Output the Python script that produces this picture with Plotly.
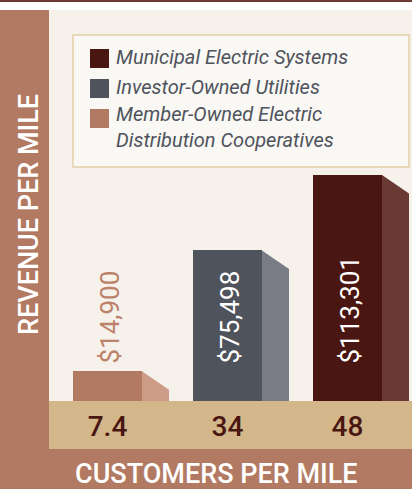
import plotly.graph_objects as go

# ---- data ----
categories = ["Member-Owned Electric Distribution Cooperatives",
              "Investor-Owned Utilities",
              "Municipal Electric Systems"]
legend_labels = ["Member-Owned Electric<br>Distribution Cooperatives",
                 "Investor-Owned Utilities",
                 "Municipal Electric Systems"]
customers_per_mile = ["7.4", "34", "48"]
revenue_per_mile = [14900, 75498, 113301]
value_labels = ["$14,900", "$75,498", "$113,301"]

# legend order (top to bottom)
legend_order = [2, 1, 0]

# ---- styles ----
front_colors = ["#b27a62", "#4f535c", "#4a1612"]
side_colors = ["#cd9c87", "#797c85", "#683a33"]
label_colors = ["#bb8269", "#ffffff", "#ffffff"]
BAND = "#b27a62"
TAN = "#d3b68a"
PLOT_BG = "#f6f1ea"
TOP_LINE = "#6a3a33"
LEGEND_TXT = "#4f535c"
FONT = "Roboto"

W, H = 412, 489
PL, PR, PT, PB = 49, 412, 10, 401          # plot area (pixels)
X_MIN, X_MAX = -0.4875, 2.5375
Y_MAX = 196000
BAR_W = 0.575
SIDE_W = 0.225
PLOT_H = PB - PT
DROP = 18.5 / PLOT_H * Y_MAX
LABEL_Y = 35 / PLOT_H * Y_MAX


def px(x):
    return x / W


def py(y):
    return 1 - y / H


fig = go.Figure()

for i, (name, v) in enumerate(zip(categories, revenue_per_mile)):
    fig.add_trace(go.Bar(x=[i], y=[v], width=BAR_W, name=name,
                         marker=dict(color=front_colors[i], line=dict(width=0)),
                         showlegend=False, hoverinfo="name+y"))
    x0 = i + BAR_W / 2
    x1 = x0 + SIDE_W
    fig.add_trace(go.Scatter(x=[x0, x1, x1, x0, x0], y=[0, 0, v - DROP, v, 0],
                             mode="lines", fill="toself", fillcolor=side_colors[i],
                             line=dict(width=0, color=side_colors[i]),
                             showlegend=False, hoverinfo="skip"))

shapes = [
    dict(type="rect", xref="paper", yref="paper", x0=0, x1=1, y0=py(2), y1=1,
         fillcolor=TOP_LINE, line_width=0, layer="below"),
    dict(type="rect", xref="paper", yref="paper", x0=0, x1=px(PL), y0=0, y1=py(PT),
         fillcolor=BAND, line_width=0, layer="below"),
    dict(type="rect", xref="paper", yref="paper", x0=0, x1=1, y0=0, y1=py(449),
         fillcolor=BAND, line_width=0, layer="below"),
    dict(type="rect", xref="paper", yref="paper", x0=px(PL), x1=1, y0=py(449), y1=py(PB),
         fillcolor=TAN, line_width=0, layer="below"),
    # legend box
    dict(type="rect", xref="paper", yref="paper", x0=px(73), x1=px(409), y0=py(167), y1=py(35),
         fillcolor="#faf8f5", line=dict(color="#e2cfa6", width=1.5)),
]

annotations = []
legend_rows = [58.5, 88.5, 118.5]
legend_text_y = [57, 87, 127]
for row, ty, idx in zip(legend_rows, legend_text_y, legend_order):
    shapes.append(dict(type="rect", xref="paper", yref="paper",
                       x0=px(90), x1=px(109), y0=py(row + 9.5), y1=py(row - 9.5),
                       fillcolor=front_colors[idx], line_width=0))
    annotations.append(dict(text=legend_labels[idx], xref="paper", yref="paper",
                            x=px(114), y=py(ty), align="left",
                            xanchor="left", yanchor="middle", showarrow=False,
                            font=dict(family=FONT, size=20, color=LEGEND_TXT,
                                      style="italic")))

for i, lab in enumerate(value_labels):
    annotations.append(dict(text=lab, xref="x", yref="y", x=i + 0.0125, y=LABEL_Y,
                            xanchor="center", yanchor="bottom", textangle=-90,
                            showarrow=False,
                            font=dict(family=FONT, size=26, color=label_colors[i])))

annotations.append(dict(text="REVENUE PER MILE", xref="paper", yref="paper",
                        x=px(29), y=py(215), textangle=-90, showarrow=False,
                        xanchor="center", yanchor="middle",
                        font=dict(family=FONT, size=27, color="#ffffff", weight=500)))
annotations.append(dict(text="CUSTOMERS PER MILE", xref="paper", yref="paper",
                        x=px(216.5), y=py(474), showarrow=False,
                        xanchor="center", yanchor="middle",
                        font=dict(family=FONT, size=27, color="#ffffff", weight=500)))

fig.update_layout(
    width=W, height=H, margin=dict(l=0, r=0, t=0, b=0),
    paper_bgcolor="#ffffff", plot_bgcolor=PLOT_BG,
    shapes=shapes, annotations=annotations, bargap=0,
    xaxis=dict(domain=[px(PL), px(PR)], range=[X_MIN, X_MAX], showgrid=False,
               zeroline=False, showline=False, ticks="",
               tickvals=[0, 1, 2], ticktext=customers_per_mile,
               tickfont=dict(family=FONT, size=28, color="#4a1612", weight=500),
               ticklabelstandoff=6, fixedrange=True),
    yaxis=dict(domain=[py(PB), py(PT)], range=[0, Y_MAX], showgrid=False,
               zeroline=False, showline=False, showticklabels=False, ticks="",
               fixedrange=True),
    showlegend=False,
)

fig.write_html("out.html", config={"displayModeBar": False},
               post_script="document.body.style.margin='0';document.body.style.overflow='hidden';")
